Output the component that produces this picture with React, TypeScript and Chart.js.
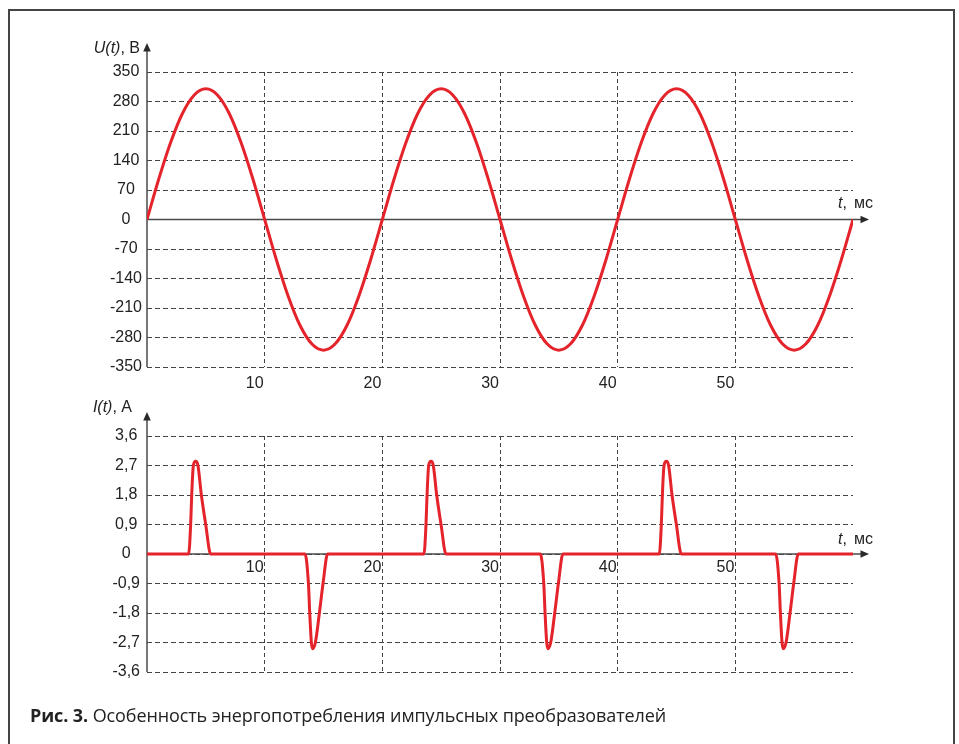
import React, { useEffect, useRef } from "react";
import { Chart, registerables } from "chart.js";

Chart.register(...registerables);

// ---- Data ----
const VOLTAGE_TIME_MS = [
  0, 1, 2, 3, 4, 5, 6, 7, 8, 9, 10, 11, 12, 13, 14, 15, 16, 17, 18, 19,
  20, 21, 22, 23, 24, 25, 26, 27, 28, 29, 30, 31, 32, 33, 34, 35, 36, 37, 38, 39,
  40, 41, 42, 43, 44, 45, 46, 47, 48, 49, 50, 51, 52, 53, 54, 55, 56, 57, 58, 59, 60,
];
const VOLTAGE_V = [
  0, 96, 182, 251, 295, 310, 295, 251, 182, 96, 0, -96, -182, -251, -295, -310, -295, -251, -182, -96,
  0, 96, 182, 251, 295, 310, 295, 251, 182, 96, 0, -96, -182, -251, -295, -310, -295, -251, -182, -96,
  0, 96, 182, 251, 295, 310, 295, 251, 182, 96, 0, -96, -182, -251, -295, -310, -295, -251, -182, -96, 0,
];

const CURRENT_TIME_MS = [
  0, 3.54, 3.71, 3.8, 3.94, 4.14, 4.33, 4.62, 4.99, 5.41,
  13.43, 13.72, 13.83, 13.97, 14.08, 14.31, 14.65, 14.96, 15.35,
  23.54, 23.71, 23.8, 23.94, 24.14, 24.33, 24.62, 24.99, 25.41,
  33.43, 33.72, 33.83, 33.97, 34.08, 34.31, 34.65, 34.96, 35.35,
  43.54, 43.71, 43.8, 43.94, 44.14, 44.33, 44.62, 44.99, 45.41,
  53.43, 53.72, 53.83, 53.97, 54.08, 54.31, 54.65, 54.96, 55.35, 60,
];
const CURRENT_A = [
  0, 0, 0.9, 1.8, 2.7, 2.83, 2.7, 1.8, 0.9, 0,
  0, -0.9, -1.8, -2.7, -2.89, -2.7, -1.8, -0.9, 0,
  0, 0.9, 1.8, 2.7, 2.83, 2.7, 1.8, 0.9, 0,
  0, -0.9, -1.8, -2.7, -2.89, -2.7, -1.8, -0.9, 0,
  0, 0.9, 1.8, 2.7, 2.83, 2.7, 1.8, 0.9, 0,
  0, -0.9, -1.8, -2.7, -2.89, -2.7, -1.8, -0.9, 0, 0,
];

const TIME_TICK_LABELS = [10, 20, 30, 40, 50];
const TIME_RANGE = [0, 60];
const VOLTAGE_RANGE = [-350, 350];
const VOLTAGE_STEP = 70;
const CURRENT_RANGE = [-3.6, 3.6];
const CURRENT_STEP = 0.9;

const TITLE_U = "U(t)";
const UNIT_U = ", В";
const TITLE_I = "I(t)";
const UNIT_I = ", А";
const TITLE_T = "t";
const UNIT_T = "мс";
const CAPTION_BOLD = "Рис. 3.";
const CAPTION_TEXT = " Особенность энергопотребления импульсных преобразователей";

// ---- Styling ----
const RED = "#e4232b";
const GRID = "#444444";
const AXIS = "#4a4a4a";
const TEXT = "#222222";
const FONT = "'Liberation Sans', Arial, sans-serif";

type AxisDeco = {
  yTipOffset: number;
  titleRight: number;
  titleDy: number;
  title: string;
  unit: string;
  tLabelDy: number;
};

function makeAxesPlugin(d: AxisDeco) {
  return {
    id: "axesArrows",
    beforeDatasetsDraw(chart: any) {
      const { ctx, chartArea, scales } = chart;
      const x0 = scales.x.getPixelForValue(0);
      const y0 = scales.y.getPixelForValue(0);
      const yTip = chartArea.top - d.yTipOffset;
      const xTip = chartArea.right + 16;
      ctx.save();
      ctx.strokeStyle = AXIS;
      ctx.fillStyle = "#2a2a2a";
      ctx.lineWidth = 1.5;
      ctx.beginPath();
      ctx.moveTo(x0, chartArea.bottom);
      ctx.lineTo(x0, yTip + 6);
      ctx.stroke();
      ctx.beginPath();
      ctx.moveTo(x0, yTip);
      ctx.lineTo(x0 - 3.8, yTip + 8.5);
      ctx.lineTo(x0 + 3.8, yTip + 8.5);
      ctx.closePath();
      ctx.fill();
      ctx.beginPath();
      ctx.moveTo(x0, y0);
      ctx.lineTo(xTip - 6, y0);
      ctx.stroke();
      ctx.beginPath();
      ctx.moveTo(xTip, y0);
      ctx.lineTo(xTip - 8.5, y0 - 3.8);
      ctx.lineTo(xTip - 8.5, y0 + 3.8);
      ctx.closePath();
      ctx.fill();

      ctx.fillStyle = TEXT;
      ctx.textBaseline = "middle";
      ctx.textAlign = "left";
      const ty = chartArea.top - d.titleDy;
      ctx.font = `16px ${FONT}`;
      const unitW = ctx.measureText(d.unit).width;
      ctx.font = `italic 16px ${FONT}`;
      const titleW = ctx.measureText(d.title).width;
      const right = x0 - d.titleRight;
      ctx.fillText(d.title, right - unitW - titleW, ty);
      ctx.font = `16px ${FONT}`;
      ctx.fillText(d.unit, right - unitW, ty);

      const tx = chartArea.right - 15;
      const tyy = y0 - d.tLabelDy;
      ctx.font = `italic 16px ${FONT}`;
      ctx.fillText(TITLE_T, tx, tyy);
      const tw = ctx.measureText(TITLE_T).width;
      ctx.font = `16px ${FONT}`;
      ctx.fillText(",", tx + tw, tyy);
      ctx.fillText(UNIT_T, tx + 16, tyy);
      ctx.restore();
    },
  };
}

const fmtCurrent = (v: number) => {
  if (Math.abs(v) < 1e-9) return "0";
  return v.toFixed(1).replace(".", ",");
};

function xScale(bottomChart: boolean) {
  return {
    type: "linear",
    min: TIME_RANGE[0],
    max: TIME_RANGE[1],
    position: bottomChart ? { y: 0 } : "bottom",
    afterFit: bottomChart ? undefined : (s: any) => { s.height = 33; },
    grid: {
      drawTicks: false,
      lineWidth: 1,
      color: (c: any) =>
        c.tick && TIME_TICK_LABELS.includes(Math.round(c.tick.value)) ? GRID : "rgba(0,0,0,0)",
    },
    border: { display: false, dash: [4, 3] },
    ticks: {
      stepSize: 10,
      align: "end",
      labelOffset: -1,
      padding: bottomChart ? 4 : 7,
      autoSkip: false,
      maxRotation: 0,
      color: TEXT,
      font: { family: FONT, size: 16 },
      callback: (v: any) => (TIME_TICK_LABELS.includes(Math.round(v)) ? String(Math.round(v)) : ""),
    },
  };
}

function yScale(range: number[], step: number, fmt: (v: number) => string, pad: number) {
  return {
    type: "linear",
    min: range[0],
    max: range[1],
    afterFit: (s: any) => { s.width = 147; },
    grid: { drawTicks: false, color: GRID, lineWidth: 1 },
    border: { display: false, dash: [5, 3] },
    ticks: {
      stepSize: step,
      crossAlign: "center",
      padding: pad,
      autoSkip: false,
      color: TEXT,
      font: { family: FONT, size: 16 },
      callback: (v: any) => fmt(Number(v)),
    },
  };
}

function VoltageChart() {
  const ref = useRef<HTMLCanvasElement>(null);
  useEffect(() => {
    const chart = new Chart(ref.current as HTMLCanvasElement, {
      type: "line",
      data: {
        datasets: [
          {
            data: VOLTAGE_TIME_MS.map((t, i) => ({ x: t, y: VOLTAGE_V[i] })),
            borderColor: RED,
            borderWidth: 3,
            pointRadius: 0,
            fill: false,
            cubicInterpolationMode: "monotone",
          },
        ],
      },
      options: {
        responsive: false,
        animation: false,
        events: [],
        layout: { padding: { top: 72, right: 106, left: 0, bottom: 0 } },
        plugins: { legend: { display: false }, tooltip: { enabled: false } },
        scales: {
          x: xScale(false) as any,
          y: yScale(VOLTAGE_RANGE, VOLTAGE_STEP, (v) => String(Math.round(v)), 5) as any,
        },
      },
      plugins: [
        makeAxesPlugin({ yTipOffset: 29, titleRight: 7, titleDy: 23, title: TITLE_U, unit: UNIT_U, tLabelDy: 16 }),
      ],
    } as any);
    return () => chart.destroy();
  }, []);
  return <canvas ref={ref} width={959} height={400} style={{ position: "absolute", left: 0, top: 0 }} />;
}

function CurrentChart() {
  const ref = useRef<HTMLCanvasElement>(null);
  useEffect(() => {
    const chart = new Chart(ref.current as HTMLCanvasElement, {
      type: "line",
      data: {
        datasets: [
          {
            data: CURRENT_TIME_MS.map((t, i) => ({ x: t, y: CURRENT_A[i] })),
            borderColor: RED,
            borderWidth: 3,
            pointRadius: 0,
            fill: false,
            cubicInterpolationMode: "monotone",
          },
        ],
      },
      options: {
        responsive: false,
        animation: false,
        events: [],
        layout: { padding: { top: 46, right: 106, left: 0, bottom: 38 } },
        plugins: { legend: { display: false }, tooltip: { enabled: false } },
        scales: {
          x: xScale(true) as any,
          y: yScale(CURRENT_RANGE, CURRENT_STEP, fmtCurrent, 7) as any,
        },
      },
      plugins: [
        makeAxesPlugin({ yTipOffset: 24, titleRight: 15, titleDy: 28, title: TITLE_I, unit: UNIT_I, tLabelDy: 14.5 }),
      ],
    } as any);
    return () => chart.destroy();
  }, []);
  return <canvas ref={ref} width={959} height={320} style={{ position: "absolute", left: 0, top: 390 }} />;
}

export default function App() {
  return (
    <div
      style={{
        position: "absolute",
        left: 0,
        top: 0,
        width: 959,
        height: 744,
        overflow: "hidden",
        background: "#ffffff",
      }}
    >
      <div
        style={{
          position: "absolute",
          left: 8,
          top: 9,
          width: 947,
          height: 800,
          boxSizing: "border-box",
          border: "2px solid #444",
        }}
      />
      <VoltageChart />
      <CurrentChart />
      <div
        style={{
          position: "absolute",
          left: 30,
          top: 706,
          fontFamily: "'Open Sans', sans-serif",
          fontSize: 18,
          lineHeight: "18px",
          color: "#222",
          whiteSpace: "nowrap",
          letterSpacing: "-0.1px",
        }}
      >
        <b>{CAPTION_BOLD}</b>
        {CAPTION_TEXT}
      </div>
    </div>
  );
}
